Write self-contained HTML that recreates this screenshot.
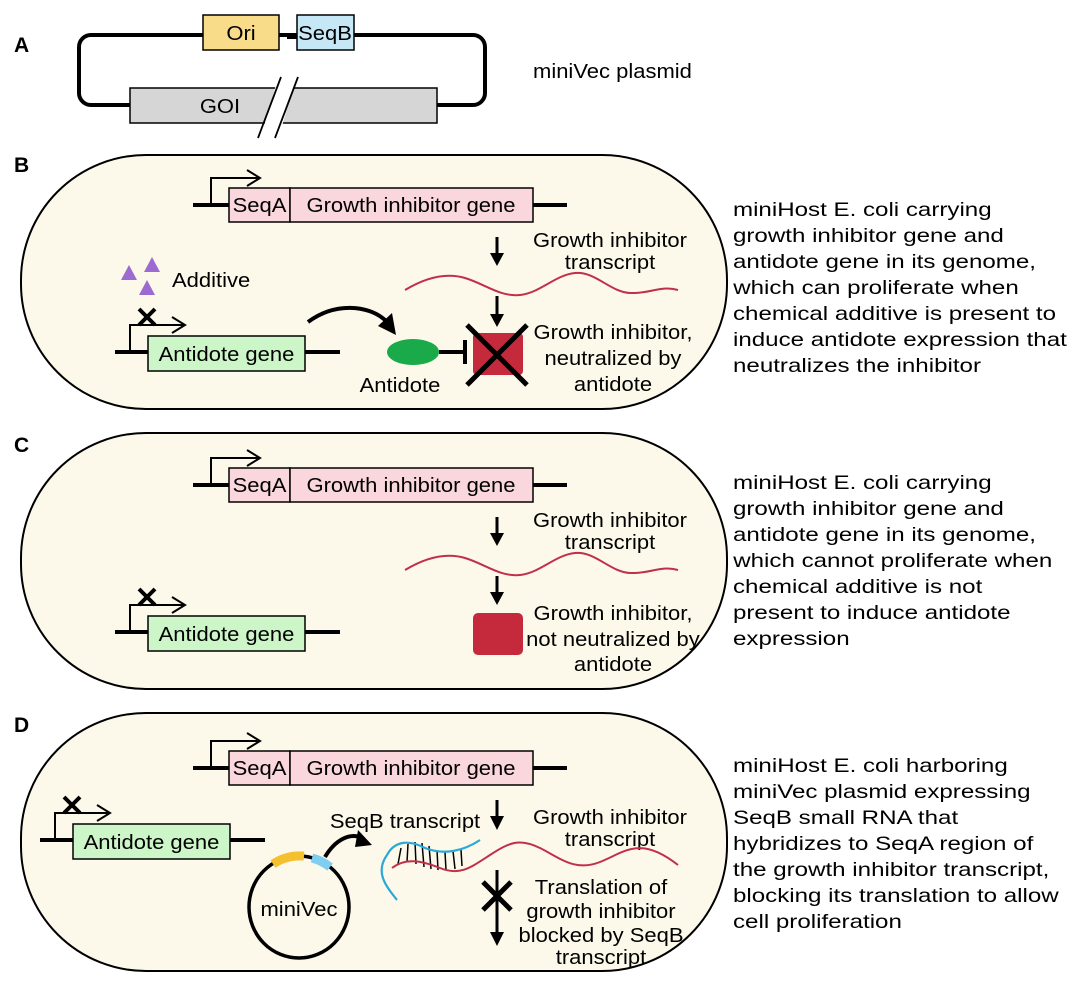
<!DOCTYPE html>
<html><head><meta charset="utf-8"><style>
html,body{margin:0;padding:0;background:#fff;}
svg{display:block;font-family:"Liberation Sans",Arial,sans-serif;}
text{font-size:20px;transform-box:fill-box;transform-origin:center;transform:scaleX(1.1);}
text.l{transform-origin:left center;}
text.n{transform:none;font-size:21px;font-weight:bold;}
.r text{font-size:19px;transform:scaleX(1.27);transform-origin:left center;}
</style></head><body>
<svg width="1080" height="987" viewBox="0 0 1080 987" xmlns="http://www.w3.org/2000/svg">
<!-- Panel A -->
<text class="n" x="14" y="52">A</text>
<rect x="79" y="35" width="406" height="70" rx="12" fill="none" stroke="#000" stroke-width="4"/>
<rect x="130" y="88" width="307" height="35" fill="#d6d6d6" stroke="#000" stroke-width="1.5"/>
<text x="220" y="113" text-anchor="middle">GOI</text>
<polygon points="278,78 296,78 278,140 260,140" fill="#fff"/>
<line x1="258" y1="138" x2="281" y2="77" stroke="#000" stroke-width="1.8"/>
<line x1="275" y1="138" x2="298" y2="77" stroke="#000" stroke-width="1.8"/>
<rect x="203" y="15" width="76" height="35" fill="#f8dc8a" stroke="#000" stroke-width="1.5"/>
<text x="241" y="40" text-anchor="middle">Ori</text>
<rect x="287" y="35" width="10" height="4" fill="#000"/>
<rect x="297" y="15" width="57" height="35" fill="#c6e7f5" stroke="#000" stroke-width="1.5"/>
<text x="325" y="40" text-anchor="middle">SeqB</text>
<text class="l" x="533" y="78">miniVec plasmid</text>

<text class="n" x="14" y="172">B</text>
<rect x="21" y="155" width="706" height="254" rx="125" fill="#fdf9ea" stroke="#000" stroke-width="2"/>
<text class="n" x="14" y="452">C</text>
<rect x="21" y="433" width="706" height="256" rx="125" fill="#fdf9ea" stroke="#000" stroke-width="2"/>
<text class="n" x="14" y="732">D</text>
<rect x="21" y="713" width="706" height="258" rx="125" fill="#fdf9ea" stroke="#000" stroke-width="2"/>

<g id="gig">
<line x1="193" y1="205" x2="567" y2="205" stroke="#000" stroke-width="4"/>
<polyline points="211,205 211,178 258,178" fill="none" stroke="#000" stroke-width="2"/>
<polyline points="247,170 260,178 247,186" fill="none" stroke="#000" stroke-width="2"/>
<rect x="229" y="188" width="61" height="34" fill="#f9d7dc" stroke="#000" stroke-width="1.5"/>
<rect x="290" y="188" width="243" height="34" fill="#f9d7dc" stroke="#000" stroke-width="1.5"/>
<text x="259.5" y="212" text-anchor="middle">SeqA</text>
<text x="411" y="212" text-anchor="middle">Growth inhibitor gene</text>
</g>
<use href="#gig" transform="translate(0,280)"/>
<use href="#gig" transform="translate(0,563)"/>

<!-- B -->
<line x1="497" y1="237" x2="497" y2="255" stroke="#000" stroke-width="3"/>
<polygon points="490,253 504,253 497,266" fill="#000"/>
<text x="610" y="247" text-anchor="middle">Growth inhibitor</text>
<text x="610" y="269" text-anchor="middle">transcript</text>
<path d="M405,290 C425,278 445,272 465,278 S500,297 520,295 S555,275 575,273 S610,292 630,293 S660,285 678,290" fill="none" stroke="#c0304a" stroke-width="2"/>
<line x1="497" y1="296" x2="497" y2="316" stroke="#000" stroke-width="3"/>
<polygon points="490,314 504,314 497,327" fill="#000"/>
<rect x="473" y="333" width="50" height="42" rx="4" fill="#c42a3c"/>
<line x1="467" y1="325" x2="527" y2="385" stroke="#000" stroke-width="5"/>
<line x1="527" y1="325" x2="467" y2="385" stroke="#000" stroke-width="5"/>
<text x="613" y="339" text-anchor="middle">Growth inhibitor,</text>
<text x="613" y="365" text-anchor="middle">neutralized by</text>
<text x="613" y="391" text-anchor="middle">antidote</text>
<ellipse cx="413" cy="352" rx="26" ry="13" fill="#1aaa4a"/>
<line x1="439" y1="352" x2="465" y2="352" stroke="#000" stroke-width="4"/>
<line x1="465" y1="340" x2="465" y2="364" stroke="#000" stroke-width="4"/>
<text x="400" y="392" text-anchor="middle">Antidote</text>
<path d="M308,322 C335,302 368,305 385,320" fill="none" stroke="#000" stroke-width="4"/>
<polygon points="378,326 396,335 392,313" fill="#000"/>
<polygon points="129,265 137,280 121,280" fill="#9b6bd1"/>
<polygon points="152,257 160,272 144,272" fill="#9b6bd1"/>
<polygon points="147,280 155,295 139,295" fill="#9b6bd1"/>
<text class="l" x="172" y="287">Additive</text>

<g id="ag">
<line x1="115" y1="352" x2="340" y2="352" stroke="#000" stroke-width="4"/>
<polyline points="130,352 130,325 183,325" fill="none" stroke="#000" stroke-width="2"/>
<polyline points="172,317 185,325 172,333" fill="none" stroke="#000" stroke-width="2"/>
<line x1="139" y1="309" x2="155" y2="325" stroke="#000" stroke-width="4"/>
<line x1="155" y1="309" x2="139" y2="325" stroke="#000" stroke-width="4"/>
<rect x="148" y="336" width="157" height="35" fill="#ccf5c8" stroke="#000" stroke-width="1.5"/>
<text x="226.5" y="361" text-anchor="middle">Antidote gene</text>
</g>
<use href="#ag" transform="translate(0,280)"/>
<use href="#ag" transform="translate(-75,488)"/>

<!-- C -->
<line x1="497" y1="517" x2="497" y2="535" stroke="#000" stroke-width="3"/>
<polygon points="490,533 504,533 497,546" fill="#000"/>
<text x="610" y="527" text-anchor="middle">Growth inhibitor</text>
<text x="610" y="549" text-anchor="middle">transcript</text>
<path d="M405,570 C425,558 445,552 465,558 S500,577 520,575 S555,555 575,553 S610,572 630,573 S660,565 678,570" fill="none" stroke="#c0304a" stroke-width="2"/>
<line x1="497" y1="576" x2="497" y2="594" stroke="#000" stroke-width="3"/>
<polygon points="490,592 504,592 497,605" fill="#000"/>
<rect x="473" y="613" width="50" height="42" rx="5" fill="#c42a3c"/>
<text x="613" y="620" text-anchor="middle">Growth inhibitor,</text>
<text x="613" y="646" text-anchor="middle">not neutralized by</text>
<text x="613" y="671" text-anchor="middle">antidote</text>

<!-- D -->
<line x1="497" y1="800" x2="497" y2="818" stroke="#000" stroke-width="3"/>
<polygon points="490,816 504,816 497,830" fill="#000"/>
<text x="610" y="824" text-anchor="middle">Growth inhibitor</text>
<text x="610" y="846" text-anchor="middle">transcript</text>
<text x="405" y="828" text-anchor="middle">SeqB transcript</text>
<g stroke="#000" stroke-width="1.5">
<line x1="401" y1="848" x2="398" y2="864"/><line x1="408" y1="844" x2="407" y2="862"/>
<line x1="415" y1="842" x2="416" y2="864"/><line x1="422" y1="843" x2="424" y2="867"/>
<line x1="429" y1="846" x2="431" y2="869"/><line x1="437" y1="850" x2="438" y2="870"/>
<line x1="445" y1="852" x2="446" y2="870"/><line x1="453" y1="851" x2="455" y2="869"/>
<line x1="461" y1="850" x2="462" y2="866"/>
</g>
<path d="M392,868 C405,858 420,860 440,868 S470,868 490,855 S520,838 540,848 S575,872 600,862 S640,835 678,865" fill="none" stroke="#c0304a" stroke-width="2"/>
<path d="M397,900 C385,885 375,872 387,855 C395,840 410,840 425,848 C445,856 465,850 480,840" fill="none" stroke="#2aa8d8" stroke-width="2.2"/>
<line x1="497" y1="870" x2="497" y2="935" stroke="#000" stroke-width="3"/>
<polygon points="490,932 504,932 497,946" fill="#000"/>
<line x1="483" y1="882" x2="511" y2="910" stroke="#000" stroke-width="5"/>
<line x1="511" y1="882" x2="483" y2="910" stroke="#000" stroke-width="5"/>
<text x="601" y="894" text-anchor="middle">Translation of</text>
<text x="601" y="918" text-anchor="middle">growth inhibitor</text>
<text x="601" y="942" text-anchor="middle">blocked by SeqB</text>
<text x="601" y="964" text-anchor="middle">transcript</text>
<ellipse cx="299" cy="907" rx="50" ry="51" fill="none" stroke="#000" stroke-width="3.5"/>
<path d="M273,864 A50,51 0 0,1 304,856" fill="none" stroke="#f5c030" stroke-width="9"/>
<path d="M312,858 A50,51 0 0,1 330,867" fill="none" stroke="#7fcdf0" stroke-width="9"/>
<text x="299" y="916" text-anchor="middle">miniVec</text>
<path d="M325,857 C335,840 350,832 362,838" fill="none" stroke="#000" stroke-width="4"/>
<polygon points="358,830 372,845 355,847" fill="#000"/>

<g class="r">
<text x="733" y="216">miniHost E. coli carrying</text>
<text x="733" y="242">growth inhibitor gene and</text>
<text x="733" y="268">antidote gene in its genome,</text>
<text x="733" y="294">which can proliferate when</text>
<text x="733" y="320">chemical additive is present to</text>
<text x="733" y="346">induce antidote expression that</text>
<text x="733" y="372">neutralizes the inhibitor</text>
<text x="733" y="489">miniHost E. coli carrying</text>
<text x="733" y="515">growth inhibitor gene and</text>
<text x="733" y="541">antidote gene in its genome,</text>
<text x="733" y="567">which cannot proliferate when</text>
<text x="733" y="593">chemical additive is not</text>
<text x="733" y="619">present to induce antidote</text>
<text x="733" y="645">expression</text>
<text x="733" y="772">miniHost E. coli harboring</text>
<text x="733" y="798">miniVec plasmid expressing</text>
<text x="733" y="824">SeqB small RNA that</text>
<text x="733" y="850">hybridizes to SeqA region of</text>
<text x="733" y="876">the growth inhibitor transcript,</text>
<text x="733" y="902">blocking its translation to allow</text>
<text x="733" y="928">cell proliferation</text>
</g>
</svg>
</body></html>
